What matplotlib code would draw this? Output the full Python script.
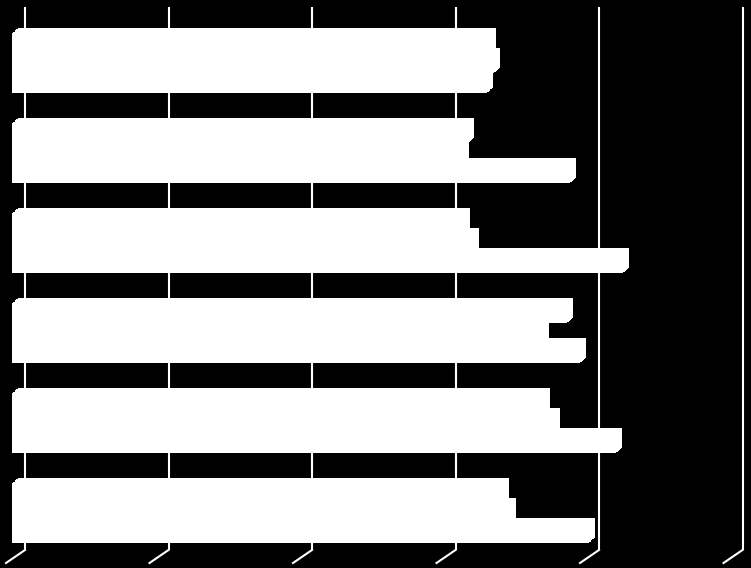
import matplotlib
matplotlib.use("Agg")
import matplotlib.pyplot as plt
import matplotlib.transforms as mtransforms
import numpy as np

# groups from top to bottom, three series per group (no labels in the picture)
groups = ["G1", "G2", "G3", "G4", "G5", "G6"]
series_a = [3.33, 3.18, 3.15, 3.87, 3.71, 3.42]
series_b = [3.36, 3.14, 3.21, 3.70, 3.78, 3.47]
series_c = [3.31, 3.89, 4.26, 3.96, 4.21, 4.02]
x_ticks = [0, 1, 2, 3, 4, 5]

fig = plt.figure(figsize=(7.51, 5.68), dpi=100, facecolor="black")
ax = fig.add_axes([25 / 751, 18 / 568, 717.5 / 751, 543 / 568])
ax.set_facecolor("black")
ax.set_xlim(0, 5)
ax.set_ylim(-0.511, 5.522)
ax.axis("off")

# back wall grid lines
for t in x_ticks:
    ax.plot([t, t], [-0.511, 5.522], color="white", lw=1.5, zorder=1,
            solid_capstyle="butt", clip_on=False)
    # floor tick going to the front
    ax.plot([t, t - 19 / 143.5], [-0.511, -0.511 - 13 / 90], color="white",
            lw=1.5, zorder=1, clip_on=False)

pos = np.arange(len(groups))[::-1]
h = 20 / 90
# pseudo 3D: stack shifted copies from the front face to the back face
for k in np.linspace(0, 1, 8):
    tr = mtransforms.offset_copy(ax.transData, fig=fig, x=-13 + 6 * k,
                                 y=-9 + 5 * k, units="dots")
    for vals, off in [(series_a, h), (series_b, 0), (series_c, -h)]:
        ax.barh(pos + off, vals, height=h, color="white", linewidth=0,
                transform=tr, zorder=3, clip_on=False)

fig.savefig("out.png", dpi=100, facecolor="black")
